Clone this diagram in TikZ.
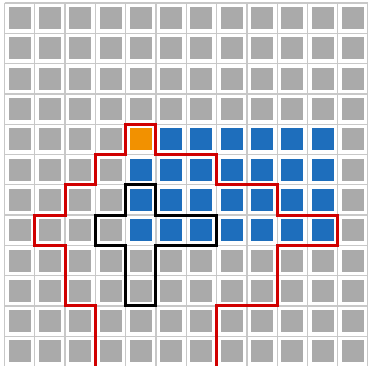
\documentclass[tikz,border=0pt]{standalone}
\definecolor{cellgray}{HTML}{AAAAAA}
\definecolor{cellblue}{HTML}{1E6EBC}
\definecolor{cellorange}{HTML}{F29100}
\definecolor{pathred}{HTML}{D00000}
\definecolor{gridgray}{HTML}{C8C8C8}
\tikzset{
  gridline/.style={draw=gridgray, line width=1.3pt},
  redpath/.style={draw=pathred, line width=3pt, line join=miter},
  blackpath/.style={draw=black, line width=3pt, line join=miter},
}
\begin{document}
\begin{tikzpicture}[x=1pt,y=-1pt]
\path[use as bounding box] (0,0) rectangle (368,366);
\clip (0,0) rectangle (368,366);
\fill[white] (0,0) rectangle (368,366);
\begin{scope}[shift={(4.5,3)}, x=30.3pt, y=-30.3pt]
  \foreach \i in {0,...,12} {
    \draw[gridline] (\i,0) -- (\i,12);
    \draw[gridline] (0,\i) -- (12,\i);
  }
  \foreach \c in {0,...,11} {
    \foreach \r in {0,...,11} {
      \fill[cellgray] (\c+0.5,\r+0.5) +(-11pt,-11pt) rectangle +(11pt,11pt);
    }
  }
  \foreach \c in {5,...,10} {
    \fill[cellblue] (\c+0.5,4.5) +(-11pt,-11pt) rectangle +(11pt,11pt);
  }
  \foreach \c in {4,...,10} {
    \foreach \r in {5,6,7} {
      \fill[cellblue] (\c+0.5,\r+0.5) +(-11pt,-11pt) rectangle +(11pt,11pt);
    }
  }
  \fill[cellorange] (4.5,4.5) +(-11pt,-11pt) rectangle +(11pt,11pt);
  \draw[redpath] (3,12.5) -- (3,10) -- (2,10) -- (2,8) -- (1,8) -- (1,7) -- (2,7) -- (2,6) -- (3,6) -- (3,5) -- (4,5) -- (4,4) -- (5,4) -- (5,5) -- (7,5) -- (7,6) -- (9,6) -- (9,7) -- (11,7) -- (11,8) -- (9,8) -- (9,10) -- (7,10) -- (7,12.5);
  \draw[blackpath] (4,6) -- (5,6) -- (5,7) -- (7,7) -- (7,8) -- (5,8) -- (5,10) -- (4,10) -- (4,8) -- (3,8) -- (3,7) -- (4,7) -- cycle;
\end{scope}
\end{tikzpicture}
\end{document}
